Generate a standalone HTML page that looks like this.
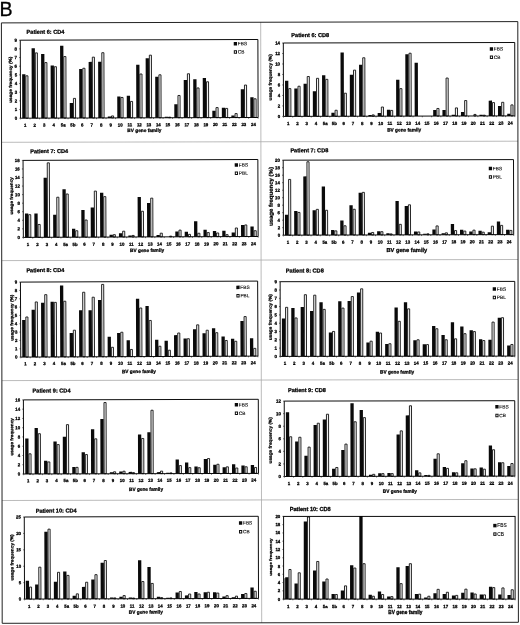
<!DOCTYPE html>
<html><head><meta charset="utf-8"><title>Figure B</title>
<style>html,body{margin:0;padding:0;background:#fff}svg{display:block;filter:blur(0.3px)}text{font-family:"Liberation Sans",sans-serif;fill:#000}.s text{stroke:#000;stroke-width:0.26px}.s text.n{stroke:#000;stroke-width:0.1px;fill:#000}</style>
</head><body>
<svg width="520" height="625" viewBox="0 0 520 625">
<rect x="0" y="0" width="520" height="625" fill="#fff"/>
<text x="-0.4" y="16.3" font-size="19.6" fill="#000" stroke="#000" stroke-width="0.3">B</text>
<g stroke="#aaa" stroke-width="0.8" fill="none">
<line x1="260.7" y1="22" x2="261.7" y2="623"/>
<line x1="2" y1="142.3" x2="518" y2="141.20000000000002"/>
<line x1="2" y1="260.6" x2="518" y2="259.5"/>
<line x1="2" y1="380.6" x2="518" y2="379.5"/>
<line x1="2" y1="500.5" x2="518" y2="499.4"/>
</g>
<path d="M1.4 22.9L517.8 21.6L518.4 622.3L2.2 623.3Z" fill="none" stroke="#222" stroke-width="1.0"/>
<g class="s" transform="rotate(-0.169 20.4 79.2)">
<text x="26.7" y="33.8" font-size="5.6" font-weight="bold">Patient 6: CD4</text>
<path d="M22.15 118.2v-43.98h3.3v43.98zM31.66 118.2v-69.81h3.3v69.81zM41.16 118.2v-64.09h3.3v64.09zM50.66 118.2v-52.65h3.3v52.65zM60.17 118.2v-72.32h3.3v72.32zM69.67 118.2v-14.95h3.3v14.95zM79.18 118.2v-49.1h3.3v49.1zM88.68 118.2v-56.12h3.3v56.12zM98.18 118.2v-56.12h3.3v56.12zM107.69 118.2v-1.52h3.3v1.52zM117.19 118.2v-21.36h3.3v21.36zM126.7 118.2v-22.23h3.3v22.23zM136.2 118.2v-53h3.3v53zM145.7 118.2v-59.58h3.3v59.58zM155.21 118.2v-40.95h3.3v40.95zM164.71 118.2v-1h3.3v1zM174.22 118.2v-13.48h3.3v13.48zM183.72 118.2v-37.83h3.3v37.83zM193.22 118.2v-38.35h3.3v38.35zM202.73 118.2v-39.65h3.3v39.65zM212.23 118.2v-6.98h3.3v6.98zM221.74 118.2v-9.75h3.3v9.75zM231.24 118.2v-2.04h3.3v2.04zM240.74 118.2v-28.38h3.3v28.38zM250.25 118.2v-20.32h3.3v20.32z" fill="#0a0a0a"/>
<path d="M25.85 118.2v-42.37h2.1v42.37zM35.36 118.2v-65.25h2.1v65.25zM44.86 118.2v-55.54h2.1v55.54zM54.36 118.2v-51.38h2.1v51.38zM63.87 118.2v-61.52h2.1v61.52zM73.37 118.2v-19.66h2.1v19.66zM82.88 118.2v-49.74h2.1v49.74zM92.38 118.2v-60.83h2.1v60.83zM101.88 118.2v-65.25h2.1v65.25zM111.39 118.2v-1.98h2.1v1.98zM120.89 118.2v-20.44h2.1v20.44zM130.4 118.2v-16.46h2.1v16.46zM139.9 118.2v-43.84h2.1v43.84zM149.4 118.2v-62.65h2.1v62.65zM158.91 118.2v-42.98h2.1v42.98zM168.41 118.2v-0.6h2.1v0.6zM177.92 118.2v-22.26h2.1v22.26zM187.42 118.2v-43.93h2.1v43.93zM196.92 118.2v-29.72h2.1v29.72zM206.43 118.2v-35.87h2.1v35.87zM215.93 118.2v-10.04h2.1v10.04zM225.44 118.2v-9.18h2.1v9.18zM234.94 118.2v-3.98h2.1v3.98zM244.44 118.2v-32.49h2.1v32.49zM253.95 118.2v-18.71h2.1v18.71z" fill="#f0f0f0" stroke="#111" stroke-width="0.9"/>
<rect x="20.4" y="40.2" width="237.6" height="78" fill="none" stroke="#000" stroke-width="0.95"/>
<path d="M20.4 118.2h-1.2M20.4 109.53h-1.2M20.4 100.87h-1.2M20.4 92.2h-1.2M20.4 83.53h-1.2M20.4 74.87h-1.2M20.4 66.2h-1.2M20.4 57.53h-1.2M20.4 48.87h-1.2M20.4 40.2h-1.2M20.4 118.2v1.2M29.9 118.2v1.2M39.41 118.2v1.2M48.91 118.2v1.2M58.42 118.2v1.2M67.92 118.2v1.2M77.42 118.2v1.2M86.93 118.2v1.2M96.43 118.2v1.2M105.94 118.2v1.2M115.44 118.2v1.2M124.94 118.2v1.2M134.45 118.2v1.2M143.95 118.2v1.2M153.46 118.2v1.2M162.96 118.2v1.2M172.46 118.2v1.2M181.97 118.2v1.2M191.47 118.2v1.2M200.98 118.2v1.2M210.48 118.2v1.2M219.98 118.2v1.2M229.49 118.2v1.2M238.99 118.2v1.2M248.5 118.2v1.2M258 118.2v1.2" stroke="#111" stroke-width="0.6" fill="none"/>
<g font-size="4.4" font-weight="bold" text-anchor="end">
<text x="17.1" y="119.7">0</text>
<text x="17.1" y="111.03">1</text>
<text x="17.1" y="102.37">2</text>
<text x="17.1" y="93.7">3</text>
<text x="17.1" y="85.03">4</text>
<text x="17.1" y="76.37">5</text>
<text x="17.1" y="67.7">6</text>
<text x="17.1" y="59.03">7</text>
<text x="17.1" y="50.37">8</text>
<text x="17.1" y="41.7">9</text>
</g>
<g font-size="4.4" font-weight="bold" text-anchor="middle">
<text x="25.15" y="126.7">1</text>
<text x="34.66" y="126.7">2</text>
<text x="44.16" y="126.7">3</text>
<text x="53.66" y="126.7">4</text>
<text x="63.17" y="126.7">5a</text>
<text x="72.67" y="126.7">5b</text>
<text x="82.18" y="126.7">6</text>
<text x="91.68" y="126.7">7</text>
<text x="101.18" y="126.7">8</text>
<text x="110.69" y="126.7">9</text>
<text x="120.19" y="126.7">10</text>
<text x="129.7" y="126.7">11</text>
<text x="139.2" y="126.7">12</text>
<text x="148.7" y="126.7">13</text>
<text x="158.21" y="126.7">14</text>
<text x="167.71" y="126.7">15</text>
<text x="177.22" y="126.7">16</text>
<text x="186.72" y="126.7">17</text>
<text x="196.22" y="126.7">18</text>
<text x="205.73" y="126.7">19</text>
<text x="215.23" y="126.7">20</text>
<text x="224.74" y="126.7">21</text>
<text x="234.24" y="126.7">22</text>
<text x="243.74" y="126.7">23</text>
<text x="253.25" y="126.7">24</text>
</g>
<text x="144.2" y="132.27" font-size="4.75" font-weight="bold" text-anchor="middle">BV gene family</text>
<text transform="translate(11.92 79.7) rotate(-90) scale(1.1 1)" font-size="4.3" font-weight="bold" text-anchor="middle">usage frequency (%)</text>
<rect x="233.85" y="42.58" width="3.3" height="3.5" fill="#0a0a0a"/>
<rect x="234.4" y="51.38" width="2.2" height="2.5" fill="#fff" stroke="#111" stroke-width="1"/>
<text x="237.9" y="45.98" font-size="4.8" class="n">FBS</text>
<text x="237.9" y="54.28" font-size="4.8" class="n">CB</text>
</g>
<g class="s" transform="rotate(-0.124 283.4 79.7)">
<text x="291.4" y="37" font-size="5.6" font-weight="bold">Patient 6: CD8</text>
<path d="M285.03 116.4v-35.62h3.3v35.62zM294.28 116.4v-27.91h3.3v27.91zM303.54 116.4v-32.63h3.3v32.63zM312.8 116.4v-25.03h3.3v25.03zM322.05 116.4v-41.02h3.3v41.02zM331.31 116.4v-3.53h3.3v3.53zM340.56 116.4v-63.83h3.3v63.83zM349.82 116.4v-41.54h3.3v41.54zM359.08 116.4v-51.51h3.3v51.51zM368.33 116.4v-1.17h3.3v1.17zM377.59 116.4v-3.27h3.3v3.27zM386.84 116.4v-6.42h3.3v6.42zM396.1 116.4v-36.3h3.3v36.3zM405.36 116.4v-61.99h3.3v61.99zM414.61 116.4v-53.34h3.3v53.34zM433.12 116.4v-6.16h3.3v6.16zM442.38 116.4v-6.16h3.3v6.16zM451.64 116.4v-1.17h3.3v1.17zM460.89 116.4v-4.06h3.3v4.06zM479.4 116.4v-1.17h3.3v1.17zM488.66 116.4v-15.33h3.3v15.33zM497.92 116.4v-9.83h3.3v9.83zM507.17 116.4v-2.22h3.3v2.22z" fill="#0a0a0a"/>
<path d="M288.73 116.4v-27.77h2.1v27.77zM297.98 116.4v-30.13h2.1v30.13zM307.24 116.4v-39.83h2.1v39.83zM316.5 116.4v-38h2.1v38zM325.75 116.4v-36.95h2.1v36.95zM335.01 116.4v-6.02h2.1v6.02zM344.26 116.4v-23.06h2.1v23.06zM353.52 116.4v-46.12h2.1v46.12zM362.78 116.4v-58.45h2.1v58.45zM372.03 116.4v-1.3h2.1v1.3zM381.29 116.4v-9.16h2.1v9.16zM390.54 116.4v-5.75h2.1v5.75zM399.8 116.4v-27.51h2.1v27.51zM409.06 116.4v-62.9h2.1v62.9zM436.82 116.4v-7.59h2.1v7.59zM446.08 116.4v-38h2.1v38zM455.34 116.4v-8.11h2.1v8.11zM464.59 116.4v-15.45h2.1v15.45zM473.85 116.4v-1.56h2.1v1.56zM483.1 116.4v-0.77h2.1v0.77zM492.36 116.4v-13.36h2.1v13.36zM501.62 116.4v-13.62h2.1v13.62zM510.87 116.4v-11h2.1v11z" fill="#f0f0f0" stroke="#111" stroke-width="0.9"/>
<rect x="283.4" y="43" width="231.4" height="73.4" fill="none" stroke="#000" stroke-width="0.95"/>
<path d="M283.4 116.4h-1.2M283.4 105.91h-1.2M283.4 95.43h-1.2M283.4 84.94h-1.2M283.4 74.46h-1.2M283.4 63.97h-1.2M283.4 53.49h-1.2M283.4 43h-1.2M283.4 116.4v1.2M292.66 116.4v1.2M301.91 116.4v1.2M311.17 116.4v1.2M320.42 116.4v1.2M329.68 116.4v1.2M338.94 116.4v1.2M348.19 116.4v1.2M357.45 116.4v1.2M366.7 116.4v1.2M375.96 116.4v1.2M385.22 116.4v1.2M394.47 116.4v1.2M403.73 116.4v1.2M412.98 116.4v1.2M422.24 116.4v1.2M431.5 116.4v1.2M440.75 116.4v1.2M450.01 116.4v1.2M459.26 116.4v1.2M468.52 116.4v1.2M477.78 116.4v1.2M487.03 116.4v1.2M496.29 116.4v1.2M505.54 116.4v1.2M514.8 116.4v1.2" stroke="#111" stroke-width="0.6" fill="none"/>
<g font-size="4.4" font-weight="bold" text-anchor="end">
<text x="280.1" y="117.9">0</text>
<text x="280.1" y="107.41">2</text>
<text x="280.1" y="96.93">4</text>
<text x="280.1" y="86.44">6</text>
<text x="280.1" y="75.96">8</text>
<text x="280.1" y="65.47">10</text>
<text x="280.1" y="54.99">12</text>
<text x="280.1" y="44.5">14</text>
</g>
<g font-size="4.4" font-weight="bold" text-anchor="middle">
<text x="288.03" y="125.1">1</text>
<text x="297.28" y="125.1">2</text>
<text x="306.54" y="125.1">3</text>
<text x="315.8" y="125.1">4</text>
<text x="325.05" y="125.1">5a</text>
<text x="334.31" y="125.1">5b</text>
<text x="343.56" y="125.1">6</text>
<text x="352.82" y="125.1">7</text>
<text x="362.08" y="125.1">8</text>
<text x="371.33" y="125.1">9</text>
<text x="380.59" y="125.1">10</text>
<text x="389.84" y="125.1">11</text>
<text x="399.1" y="125.1">12</text>
<text x="408.36" y="125.1">13</text>
<text x="417.61" y="125.1">14</text>
<text x="426.87" y="125.1">15</text>
<text x="436.12" y="125.1">16</text>
<text x="445.38" y="125.1">17</text>
<text x="454.64" y="125.1">18</text>
<text x="463.89" y="125.1">19</text>
<text x="473.15" y="125.1">20</text>
<text x="482.4" y="125.1">21</text>
<text x="491.66" y="125.1">22</text>
<text x="500.92" y="125.1">23</text>
<text x="510.17" y="125.1">24</text>
</g>
<text x="404.1" y="131.67" font-size="4.75" font-weight="bold" text-anchor="middle">BV gene family</text>
<text transform="translate(271.72 77.3) rotate(-90) scale(1.1 1)" font-size="4.3" font-weight="bold" text-anchor="middle">usage frequency (%)</text>
<rect x="489.85" y="47.6" width="3.3" height="3.5" fill="#0a0a0a"/>
<rect x="490.4" y="56.5" width="2.2" height="2.5" fill="#fff" stroke="#111" stroke-width="1"/>
<text x="493.9" y="51" font-size="4.8" class="n">FBS</text>
<text x="493.9" y="59.4" font-size="4.8" class="n">CB</text>
</g>
<g class="s" transform="rotate(-0.220 23.2 198.9)">
<text x="30.4" y="153.2" font-size="5.6" font-weight="bold">Patient 7: CD4</text>
<path d="M24.9 237.4v-23.96h3.3v23.96zM34.29 237.4v-23.96h3.3v23.96zM43.68 237.4v-59.68h3.3v59.68zM53.07 237.4v-22.47h3.3v22.47zM62.46 237.4v-47.92h3.3v47.92zM71.86 237.4v-8.56h3.3v8.56zM81.25 237.4v-27.17h3.3v27.17zM90.64 237.4v-29.74h3.3v29.74zM100.03 237.4v-44.28h3.3v44.28zM109.42 237.4v-2.36h3.3v2.36zM118.82 237.4v-3.86h3.3v3.86zM128.21 237.4v-1.51h3.3v1.51zM137.6 237.4v-40.01h3.3v40.01zM146.99 237.4v-34.02h3.3v34.02zM156.38 237.4v-1.93h3.3v1.93zM175.17 237.4v-5.36h3.3v5.36zM184.56 237.4v-4.93h3.3v4.93zM193.95 237.4v-15.41h3.3v15.41zM203.34 237.4v-7.07h3.3v7.07zM212.74 237.4v-5.78h3.3v5.78zM222.13 237.4v-5.78h3.3v5.78zM231.52 237.4v-4.07h3.3v4.07zM240.91 237.4v-11.56h3.3v11.56zM250.3 237.4v-10.06h3.3v10.06z" fill="#0a0a0a"/>
<path d="M28.6 237.4v-22.71h2.1v22.71zM37.99 237.4v-12.87h2.1v12.87zM47.38 237.4v-74.47h2.1v74.47zM56.77 237.4v-40.03h2.1v40.03zM66.16 237.4v-43.24h2.1v43.24zM75.56 237.4v-6.45h2.1v6.45zM84.95 237.4v-17.15h2.1v17.15zM94.34 237.4v-46.02h2.1v46.02zM103.73 237.4v-40.46h2.1v40.46zM113.12 237.4v-2.39h2.1v2.39zM122.52 237.4v-5.81h2.1v5.81zM131.91 237.4v-1.53h2.1v1.53zM141.3 237.4v-25.7h2.1v25.7zM150.69 237.4v-38.75h2.1v38.75zM160.08 237.4v-3.67h2.1v3.67zM169.48 237.4v-0.68h2.1v0.68zM178.87 237.4v-6.67h2.1v6.67zM188.26 237.4v-2.39h2.1v2.39zM197.65 237.4v-3.46h2.1v3.46zM207.04 237.4v-4.1h2.1v4.1zM216.44 237.4v-3.67h2.1v3.67zM225.83 237.4v-1.96h2.1v1.96zM235.22 237.4v-8.59h2.1v8.59zM244.61 237.4v-11.59h2.1v11.59zM254 237.4v-5.81h2.1v5.81z" fill="#f0f0f0" stroke="#111" stroke-width="0.9"/>
<rect x="23.2" y="160.4" width="234.8" height="77" fill="none" stroke="#000" stroke-width="0.95"/>
<path d="M23.2 237.4h-1.2M23.2 228.84h-1.2M23.2 220.29h-1.2M23.2 211.73h-1.2M23.2 203.18h-1.2M23.2 194.62h-1.2M23.2 186.07h-1.2M23.2 177.51h-1.2M23.2 168.96h-1.2M23.2 160.4h-1.2M23.2 237.4v1.2M32.59 237.4v1.2M41.98 237.4v1.2M51.38 237.4v1.2M60.77 237.4v1.2M70.16 237.4v1.2M79.55 237.4v1.2M88.94 237.4v1.2M98.34 237.4v1.2M107.73 237.4v1.2M117.12 237.4v1.2M126.51 237.4v1.2M135.9 237.4v1.2M145.3 237.4v1.2M154.69 237.4v1.2M164.08 237.4v1.2M173.47 237.4v1.2M182.86 237.4v1.2M192.26 237.4v1.2M201.65 237.4v1.2M211.04 237.4v1.2M220.43 237.4v1.2M229.82 237.4v1.2M239.22 237.4v1.2M248.61 237.4v1.2M258 237.4v1.2" stroke="#111" stroke-width="0.6" fill="none"/>
<g font-size="4.4" font-weight="bold" text-anchor="end">
<text x="19.9" y="238.9">0</text>
<text x="19.9" y="230.34">2</text>
<text x="19.9" y="221.79">4</text>
<text x="19.9" y="213.23">6</text>
<text x="19.9" y="204.68">8</text>
<text x="19.9" y="196.12">10</text>
<text x="19.9" y="187.57">12</text>
<text x="19.9" y="179.01">14</text>
<text x="19.9" y="170.46">16</text>
<text x="19.9" y="161.9">18</text>
</g>
<g font-size="4.4" font-weight="bold" text-anchor="middle">
<text x="27.9" y="246.1">1</text>
<text x="37.29" y="246.1">2</text>
<text x="46.68" y="246.1">3</text>
<text x="56.07" y="246.1">4</text>
<text x="65.46" y="246.1">5a</text>
<text x="74.86" y="246.1">5b</text>
<text x="84.25" y="246.1">6</text>
<text x="93.64" y="246.1">7</text>
<text x="103.03" y="246.1">8</text>
<text x="112.42" y="246.1">9</text>
<text x="121.82" y="246.1">10</text>
<text x="131.21" y="246.1">11</text>
<text x="140.6" y="246.1">12</text>
<text x="149.99" y="246.1">13</text>
<text x="159.38" y="246.1">14</text>
<text x="168.78" y="246.1">15</text>
<text x="178.17" y="246.1">16</text>
<text x="187.56" y="246.1">17</text>
<text x="196.95" y="246.1">18</text>
<text x="206.34" y="246.1">19</text>
<text x="215.74" y="246.1">20</text>
<text x="225.13" y="246.1">21</text>
<text x="234.52" y="246.1">22</text>
<text x="243.91" y="246.1">23</text>
<text x="253.3" y="246.1">24</text>
</g>
<text x="146.9" y="252.37" font-size="4.75" font-weight="bold" text-anchor="middle">BV gene family</text>
<text transform="translate(12.92 195.8) rotate(-90) scale(1.1 1)" font-size="4.3" font-weight="bold" text-anchor="middle">usage frequency</text>
<rect x="234.85" y="164.06" width="3.3" height="3.5" fill="#0a0a0a"/>
<rect x="235.4" y="172.76" width="2.2" height="2.5" fill="#fff" stroke="#111" stroke-width="1"/>
<text x="238.9" y="167.46" font-size="4.8" class="n">FBS</text>
<text x="238.9" y="175.66" font-size="4.8" class="n">PBL</text>
</g>
<g class="s" transform="rotate(-0.149 283.3 197.7)">
<text x="290.5" y="152.4" font-size="5.6" font-weight="bold">Patient 7: CD8</text>
<path d="M284.91 235.2v-20.52h3.3v20.52zM294.12 235.2v-24.09h3.3v24.09zM303.33 235.2v-58.77h3.3v58.77zM312.54 235.2v-24.84h3.3v24.84zM321.75 235.2v-48.65h3.3v48.65zM330.97 235.2v-4.96h3.3v4.96zM340.18 235.2v-14.53h3.3v14.53zM349.39 235.2v-29.71h3.3v29.71zM358.6 235.2v-42.27h3.3v42.27zM367.81 235.2v-2.34h3.3v2.34zM377.03 235.2v-3.65h3.3v3.65zM386.24 235.2v-1.59h3.3v1.59zM395.45 235.2v-34.02h3.3v34.02zM404.66 235.2v-28.77h3.3v28.77zM413.87 235.2v-3.27h3.3v3.27zM423.09 235.2v-1.02h3.3v1.02zM432.3 235.2v-5.34h3.3v5.34zM441.51 235.2v-1.59h3.3v1.59zM450.72 235.2v-10.78h3.3v10.78zM459.93 235.2v-4.96h3.3v4.96zM469.15 235.2v-3.27h3.3v3.27zM478.36 235.2v-3.84h3.3v3.84zM487.57 235.2v-2.34h3.3v2.34zM496.78 235.2v-13.21h3.3v13.21zM505.99 235.2v-4.96h3.3v4.96z" fill="#0a0a0a"/>
<path d="M288.61 235.2v-55.75h2.1v55.75zM297.82 235.2v-22.75h2.1v22.75zM307.03 235.2v-73.38h2.1v73.38zM316.24 235.2v-25.75h2.1v25.75zM325.45 235.2v-24.81h2.1v24.81zM334.67 235.2v-4.19h2.1v4.19zM343.88 235.2v-9.25h2.1v9.25zM353.09 235.2v-25.75h2.1v25.75zM362.3 235.2v-42.62h2.1v42.62zM371.51 235.2v-2.5h2.1v2.5zM380.73 235.2v-3.25h2.1v3.25zM389.94 235.2v-1h2.1v1zM399.15 235.2v-10.56h2.1v10.56zM408.36 235.2v-30.06h2.1v30.06zM417.57 235.2v-2.88h2.1v2.88zM426.79 235.2v-1h2.1v1zM436 235.2v-8.88h2.1v8.88zM445.21 235.2v-1.94h2.1v1.94zM454.42 235.2v-4.19h2.1v4.19zM463.63 235.2v-3.63h2.1v3.63zM472.85 235.2v-4.56h2.1v4.56zM482.06 235.2v-2.5h2.1v2.5zM491.27 235.2v-8.5h2.1v8.5zM500.48 235.2v-9.25h2.1v9.25zM509.69 235.2v-4.19h2.1v4.19z" fill="#f0f0f0" stroke="#111" stroke-width="0.9"/>
<rect x="283.3" y="160.2" width="230.3" height="75" fill="none" stroke="#000" stroke-width="0.95"/>
<path d="M283.3 235.2h-1.2M283.3 227.7h-1.2M283.3 220.2h-1.2M283.3 212.7h-1.2M283.3 205.2h-1.2M283.3 197.7h-1.2M283.3 190.2h-1.2M283.3 182.7h-1.2M283.3 175.2h-1.2M283.3 167.7h-1.2M283.3 160.2h-1.2M283.3 235.2v1.2M292.51 235.2v1.2M301.72 235.2v1.2M310.94 235.2v1.2M320.15 235.2v1.2M329.36 235.2v1.2M338.57 235.2v1.2M347.78 235.2v1.2M357 235.2v1.2M366.21 235.2v1.2M375.42 235.2v1.2M384.63 235.2v1.2M393.84 235.2v1.2M403.06 235.2v1.2M412.27 235.2v1.2M421.48 235.2v1.2M430.69 235.2v1.2M439.9 235.2v1.2M449.12 235.2v1.2M458.33 235.2v1.2M467.54 235.2v1.2M476.75 235.2v1.2M485.96 235.2v1.2M495.18 235.2v1.2M504.39 235.2v1.2M513.6 235.2v1.2" stroke="#111" stroke-width="0.6" fill="none"/>
<g font-size="4.4" font-weight="bold" text-anchor="end">
<text x="280" y="236.7">0</text>
<text x="280" y="229.2">2</text>
<text x="280" y="221.7">4</text>
<text x="280" y="214.2">6</text>
<text x="280" y="206.7">8</text>
<text x="280" y="199.2">10</text>
<text x="280" y="191.7">12</text>
<text x="280" y="184.2">14</text>
<text x="280" y="176.7">16</text>
<text x="280" y="169.2">18</text>
<text x="280" y="161.7">20</text>
</g>
<g font-size="4.4" font-weight="bold" text-anchor="middle">
<text x="287.91" y="243.8">1</text>
<text x="297.12" y="243.8">2</text>
<text x="306.33" y="243.8">3</text>
<text x="315.54" y="243.8">4</text>
<text x="324.75" y="243.8">5a</text>
<text x="333.97" y="243.8">5b</text>
<text x="343.18" y="243.8">6</text>
<text x="352.39" y="243.8">7</text>
<text x="361.6" y="243.8">8</text>
<text x="370.81" y="243.8">9</text>
<text x="380.03" y="243.8">10</text>
<text x="389.24" y="243.8">11</text>
<text x="398.45" y="243.8">12</text>
<text x="407.66" y="243.8">13</text>
<text x="416.87" y="243.8">14</text>
<text x="426.09" y="243.8">15</text>
<text x="435.3" y="243.8">16</text>
<text x="444.51" y="243.8">17</text>
<text x="453.72" y="243.8">18</text>
<text x="462.93" y="243.8">19</text>
<text x="472.15" y="243.8">20</text>
<text x="481.36" y="243.8">21</text>
<text x="490.57" y="243.8">22</text>
<text x="499.78" y="243.8">23</text>
<text x="508.99" y="243.8">24</text>
</g>
<text x="406.7" y="252.38" font-size="5.7" font-weight="bold" text-anchor="middle">BV gene family</text>
<text transform="translate(272.73 196.5) rotate(-90) scale(1.1 1)" font-size="5.5" font-weight="bold" text-anchor="middle">usage frequency (%)</text>
<rect x="488.85" y="167.29" width="3.3" height="3.5" fill="#0a0a0a"/>
<rect x="489.4" y="176.19" width="2.2" height="2.5" fill="#fff" stroke="#111" stroke-width="1"/>
<text x="492.9" y="170.69" font-size="4.8" class="n">FBS</text>
<text x="492.9" y="179.09" font-size="4.8" class="n">PBL</text>
</g>
<g class="s" transform="rotate(-0.242 20.6 319.6)">
<text x="26.6" y="272.2" font-size="5.6" font-weight="bold">Patient 8: CD4</text>
<path d="M22.14 357.1v-37.07h3.3v37.07zM31.63 357.1v-47.32h3.3v47.32zM41.12 357.1v-54.32h3.3v54.32zM50.61 357.1v-55.15h3.3v55.15zM60.1 357.1v-71.4h3.3v71.4zM69.58 357.1v-23.98h3.3v23.98zM79.07 357.1v-46.48h3.3v46.48zM88.56 357.1v-46.48h3.3v46.48zM98.05 357.1v-56.73h3.3v56.73zM107.54 357.1v-19.98h3.3v19.98zM117.02 357.1v-23.57h3.3v23.57zM126.51 357.1v-16.48h3.3v16.48zM136 357.1v-57.9h3.3v57.9zM145.49 357.1v-50.65h3.3v50.65zM154.98 357.1v-16.73h3.3v16.73zM164.46 357.1v-15.65h3.3v15.65zM173.95 357.1v-21.32h3.3v21.32zM183.44 357.1v-17.9h3.3v17.9zM192.93 357.1v-27.07h3.3v27.07zM202.42 357.1v-23.15h3.3v23.15zM211.9 357.1v-28.15h3.3v28.15zM221.39 357.1v-19.65h3.3v19.65zM230.88 357.1v-17.57h3.3v17.57zM240.37 357.1v-35.15h3.3v35.15zM249.86 357.1v-17.9h3.3v17.9z" fill="#0a0a0a"/>
<path d="M25.84 357.1v-40.08h2.1v40.08zM35.33 357.1v-55.08h2.1v55.08zM44.82 357.1v-62.33h2.1v62.33zM54.31 357.1v-54.58h2.1v54.58zM63.8 357.1v-55.67h2.1v55.67zM73.28 357.1v-26.67h2.1v26.67zM82.77 357.1v-64.58h2.1v64.58zM92.26 357.1v-59.58h2.1v59.58zM101.75 357.1v-72.33h2.1v72.33zM111.24 357.1v-9.42h2.1v9.42zM120.72 357.1v-24.42h2.1v24.42zM130.21 357.1v-7.17h2.1v7.17zM139.7 357.1v-48.58h2.1v48.58zM149.19 357.1v-36.08h2.1v36.08zM158.68 357.1v-10.25h2.1v10.25zM168.16 357.1v-6.25h2.1v6.25zM177.65 357.1v-23.42h2.1v23.42zM187.14 357.1v-17.67h2.1v17.67zM196.63 357.1v-31.5h2.1v31.5zM206.12 357.1v-26.08h2.1v26.08zM215.6 357.1v-23.58h2.1v23.58zM225.09 357.1v-15.75h2.1v15.75zM234.58 357.1v-14.92h2.1v14.92zM244.07 357.1v-39.58h2.1v39.58zM253.56 357.1v-7.75h2.1v7.75z" fill="#f0f0f0" stroke="#111" stroke-width="0.9"/>
<rect x="20.6" y="282.1" width="237.2" height="75" fill="none" stroke="#000" stroke-width="0.95"/>
<path d="M20.6 357.1h-1.2M20.6 348.77h-1.2M20.6 340.43h-1.2M20.6 332.1h-1.2M20.6 323.77h-1.2M20.6 315.43h-1.2M20.6 307.1h-1.2M20.6 298.77h-1.2M20.6 290.43h-1.2M20.6 282.1h-1.2M20.6 357.1v1.2M30.09 357.1v1.2M39.58 357.1v1.2M49.06 357.1v1.2M58.55 357.1v1.2M68.04 357.1v1.2M77.53 357.1v1.2M87.02 357.1v1.2M96.5 357.1v1.2M105.99 357.1v1.2M115.48 357.1v1.2M124.97 357.1v1.2M134.46 357.1v1.2M143.94 357.1v1.2M153.43 357.1v1.2M162.92 357.1v1.2M172.41 357.1v1.2M181.9 357.1v1.2M191.38 357.1v1.2M200.87 357.1v1.2M210.36 357.1v1.2M219.85 357.1v1.2M229.34 357.1v1.2M238.82 357.1v1.2M248.31 357.1v1.2M257.8 357.1v1.2" stroke="#111" stroke-width="0.6" fill="none"/>
<g font-size="4.4" font-weight="bold" text-anchor="end">
<text x="17.3" y="358.6">0</text>
<text x="17.3" y="350.27">1</text>
<text x="17.3" y="341.93">2</text>
<text x="17.3" y="333.6">3</text>
<text x="17.3" y="325.27">4</text>
<text x="17.3" y="316.93">5</text>
<text x="17.3" y="308.6">6</text>
<text x="17.3" y="300.27">7</text>
<text x="17.3" y="291.93">8</text>
<text x="17.3" y="283.6">9</text>
</g>
<g font-size="4.4" font-weight="bold" text-anchor="middle">
<text x="25.34" y="365.2">1</text>
<text x="34.83" y="365.2">2</text>
<text x="44.32" y="365.2">3</text>
<text x="53.81" y="365.2">4</text>
<text x="63.3" y="365.2">5a</text>
<text x="72.78" y="365.2">5b</text>
<text x="82.27" y="365.2">6</text>
<text x="91.76" y="365.2">7</text>
<text x="101.25" y="365.2">8</text>
<text x="110.74" y="365.2">9</text>
<text x="120.22" y="365.2">10</text>
<text x="129.71" y="365.2">11</text>
<text x="139.2" y="365.2">12</text>
<text x="148.69" y="365.2">13</text>
<text x="158.18" y="365.2">14</text>
<text x="167.66" y="365.2">15</text>
<text x="177.15" y="365.2">16</text>
<text x="186.64" y="365.2">17</text>
<text x="196.13" y="365.2">18</text>
<text x="205.62" y="365.2">19</text>
<text x="215.1" y="365.2">20</text>
<text x="224.59" y="365.2">21</text>
<text x="234.08" y="365.2">22</text>
<text x="243.57" y="365.2">23</text>
<text x="253.06" y="365.2">24</text>
</g>
<text x="138.7" y="373.57" font-size="4.75" font-weight="bold" text-anchor="middle">BV gene family</text>
<text transform="translate(13.32 317.7) rotate(-90) scale(1.1 1)" font-size="4.3" font-weight="bold" text-anchor="middle">usage frequency (%)</text>
<rect x="236.45" y="286.55" width="3.3" height="3.5" fill="#0a0a0a"/>
<rect x="237" y="295.35" width="2.2" height="2.5" fill="#fff" stroke="#111" stroke-width="1"/>
<text x="240.5" y="289.95" font-size="4.8" class="n">FBS</text>
<text x="240.5" y="298.25" font-size="4.8" class="n">PBL</text>
</g>
<g class="s" transform="rotate(-0.073 280.2 319.05)">
<text x="285.9" y="272.5" font-size="5.6" font-weight="bold">Patient 8: CD8</text>
<path d="M281.89 356.4v-37.92h3.3v37.92zM291.28 356.4v-48.29h3.3v48.29zM300.66 356.4v-49.45h3.3v49.45zM310.04 356.4v-45.47h3.3v45.47zM319.43 356.4v-54.1h3.3v54.1zM328.81 356.4v-23.89h3.3v23.89zM338.2 356.4v-55.18h3.3v55.18zM347.58 356.4v-55.43h3.3v55.43zM356.96 356.4v-63.73h3.3v63.73zM366.35 356.4v-13.76h3.3v13.76zM375.73 356.4v-24.47h3.3v24.47zM385.12 356.4v-12.35h3.3v12.35zM394.5 356.4v-48.79h3.3v48.79zM403.88 356.4v-53.94h3.3v53.94zM413.27 356.4v-16h3.3v16zM422.65 356.4v-12.02h3.3v12.02zM432.04 356.4v-30.2h3.3v30.2zM441.42 356.4v-21.15h3.3v21.15zM450.8 356.4v-33.85h3.3v33.85zM460.19 356.4v-29.7h3.3v29.7zM469.57 356.4v-25.88h3.3v25.88zM478.96 356.4v-16.83h3.3v16.83zM488.34 356.4v-16.34h3.3v16.34zM497.72 356.4v-38.41h3.3v38.41zM507.11 356.4v-10.61h3.3v10.61z" fill="#0a0a0a"/>
<path d="M285.59 356.4v-49.05h2.1v49.05zM294.98 356.4v-38.43h2.1v38.43zM304.36 356.4v-61.67h2.1v61.67zM313.74 356.4v-61.17h2.1v61.17zM323.13 356.4v-46.98h2.1v46.98zM332.51 356.4v-24.9h2.1v24.9zM341.9 356.4v-48.22h2.1v48.22zM351.28 356.4v-59.76h2.1v59.76zM360.66 356.4v-67.48h2.1v67.48zM370.05 356.4v-15.11h2.1v15.11zM379.43 356.4v-23.24h2.1v23.24zM388.82 356.4v-12.53h2.1v12.53zM398.2 356.4v-34.94h2.1v34.94zM407.58 356.4v-47.39h2.1v47.39zM416.97 356.4v-16.43h2.1v16.43zM426.35 356.4v-11.62h2.1v11.62zM435.74 356.4v-27.47h2.1v27.47zM445.12 356.4v-16.43h2.1v16.43zM454.5 356.4v-17.35h2.1v17.35zM463.89 356.4v-22.49h2.1v22.49zM473.27 356.4v-24.57h2.1v24.57zM482.66 356.4v-15.6h2.1v15.6zM492.04 356.4v-34.03h2.1v34.03zM501.42 356.4v-38.43h2.1v38.43zM510.81 356.4v-11.62h2.1v11.62z" fill="#f0f0f0" stroke="#111" stroke-width="0.9"/>
<rect x="280.2" y="281.7" width="234.6" height="74.7" fill="none" stroke="#000" stroke-width="0.95"/>
<path d="M280.2 356.4h-1.2M280.2 348.1h-1.2M280.2 339.8h-1.2M280.2 331.5h-1.2M280.2 323.2h-1.2M280.2 314.9h-1.2M280.2 306.6h-1.2M280.2 298.3h-1.2M280.2 290h-1.2M280.2 281.7h-1.2M280.2 356.4v1.2M289.58 356.4v1.2M298.97 356.4v1.2M308.35 356.4v1.2M317.74 356.4v1.2M327.12 356.4v1.2M336.5 356.4v1.2M345.89 356.4v1.2M355.27 356.4v1.2M364.66 356.4v1.2M374.04 356.4v1.2M383.42 356.4v1.2M392.81 356.4v1.2M402.19 356.4v1.2M411.58 356.4v1.2M420.96 356.4v1.2M430.34 356.4v1.2M439.73 356.4v1.2M449.11 356.4v1.2M458.5 356.4v1.2M467.88 356.4v1.2M477.26 356.4v1.2M486.65 356.4v1.2M496.03 356.4v1.2M505.42 356.4v1.2M514.8 356.4v1.2" stroke="#111" stroke-width="0.6" fill="none"/>
<g font-size="4.4" font-weight="bold" text-anchor="end">
<text x="276.9" y="357.9">0</text>
<text x="276.9" y="349.6">1</text>
<text x="276.9" y="341.3">2</text>
<text x="276.9" y="333">3</text>
<text x="276.9" y="324.7">4</text>
<text x="276.9" y="316.4">5</text>
<text x="276.9" y="308.1">6</text>
<text x="276.9" y="299.8">7</text>
<text x="276.9" y="291.5">8</text>
<text x="276.9" y="283.2">9</text>
</g>
<g font-size="4.4" font-weight="bold" text-anchor="middle">
<text x="284.89" y="364.8">1</text>
<text x="294.28" y="364.8">2</text>
<text x="303.66" y="364.8">3</text>
<text x="313.04" y="364.8">4</text>
<text x="322.43" y="364.8">5a</text>
<text x="331.81" y="364.8">5b</text>
<text x="341.2" y="364.8">6</text>
<text x="350.58" y="364.8">7</text>
<text x="359.96" y="364.8">8</text>
<text x="369.35" y="364.8">9</text>
<text x="378.73" y="364.8">10</text>
<text x="388.12" y="364.8">11</text>
<text x="397.5" y="364.8">12</text>
<text x="406.88" y="364.8">13</text>
<text x="416.27" y="364.8">14</text>
<text x="425.65" y="364.8">15</text>
<text x="435.04" y="364.8">16</text>
<text x="444.42" y="364.8">17</text>
<text x="453.8" y="364.8">18</text>
<text x="463.19" y="364.8">19</text>
<text x="472.57" y="364.8">20</text>
<text x="481.96" y="364.8">21</text>
<text x="491.34" y="364.8">22</text>
<text x="500.72" y="364.8">23</text>
<text x="510.11" y="364.8">24</text>
</g>
<text x="397" y="373.57" font-size="4.75" font-weight="bold" text-anchor="middle">BV gene family</text>
<text transform="translate(271.72 317.2) rotate(-90) scale(1.1 1)" font-size="4.3" font-weight="bold" text-anchor="middle">usage frequency (%)</text>
<rect x="492.75" y="287.62" width="3.3" height="3.5" fill="#0a0a0a"/>
<rect x="493.3" y="296.42" width="2.2" height="2.5" fill="#fff" stroke="#111" stroke-width="1"/>
<text x="496.8" y="291.02" font-size="4.8" class="n">FBS</text>
<text x="496.8" y="299.32" font-size="4.8" class="n">PBL</text>
</g>
<g class="s" transform="rotate(-0.146 23.5 436.95)">
<text x="32.7" y="392.5" font-size="5.6" font-weight="bold">Patient 9: CD4</text>
<path d="M25.2 474v-35.38h3.3v35.38zM34.59 474v-45.85h3.3v45.85zM43.99 474v-13.29h3.3v13.29zM53.39 474v-32.33h3.3v32.33zM62.78 474v-37.19h3.3v37.19zM72.18 474v-6.9h3.3v6.9zM81.57 474v-21.58h3.3v21.58zM90.97 474v-44.65h3.3v44.65zM100.37 474v-54.84h3.3v54.84zM109.76 474v-1.58h3.3v1.58zM119.16 474v-2.36h3.3v2.36zM128.55 474v-1.85h3.3v1.85zM137.95 474v-39.27h3.3v39.27zM147.35 474v-41.36h3.3v41.36zM156.74 474v-1.53h3.3v1.53zM166.14 474v-0.88h3.3v0.88zM175.53 474v-13.99h3.3v13.99zM184.93 474v-11.02h3.3v11.02zM194.33 474v-7.04h3.3v7.04zM203.72 474v-14.5h3.3v14.5zM213.12 474v-8.8h3.3v8.8zM222.51 474v-6.35h3.3v6.35zM231.91 474v-9.31h3.3v9.31zM241.31 474v-8.06h3.3v8.06zM250.7 474v-8.43h3.3v8.43z" fill="#0a0a0a"/>
<path d="M28.9 474v-20.16h2.1v20.16zM38.29 474v-40.26h2.1v40.26zM47.69 474v-12.01h2.1v12.01zM57.09 474v-29.33h2.1v29.33zM66.48 474v-49.25h2.1v49.25zM75.88 474v-6.5h2.1v6.5zM85.27 474v-19.28h2.1v19.28zM94.67 474v-34.98h2.1v34.98zM104.07 474v-71.25h2.1v71.25zM113.46 474v-1.96h2.1v1.96zM122.86 474v-2.52h2.1v2.52zM132.25 474v-1.13h2.1v1.13zM141.65 474v-35.22h2.1v35.22zM151.05 474v-63.42h2.1v63.42zM160.44 474v-2.52h2.1v2.52zM169.84 474v-0.71h2.1v0.71zM179.23 474v-8.03h2.1v8.03zM188.63 474v-5.95h2.1v5.95zM198.03 474v-5.81h2.1v5.81zM207.42 474v-14.98h2.1v14.98zM216.82 474v-9.23h2.1v9.23zM226.21 474v-6.64h2.1v6.64zM235.61 474v-5.44h2.1v5.44zM245.01 474v-6.64h2.1v6.64zM254.4 474v-5.95h2.1v5.95z" fill="#f0f0f0" stroke="#111" stroke-width="0.9"/>
<rect x="23.5" y="399.9" width="234.9" height="74.1" fill="none" stroke="#000" stroke-width="0.95"/>
<path d="M23.5 474h-1.2M23.5 464.74h-1.2M23.5 455.48h-1.2M23.5 446.21h-1.2M23.5 436.95h-1.2M23.5 427.69h-1.2M23.5 418.42h-1.2M23.5 409.16h-1.2M23.5 399.9h-1.2M23.5 474v1.2M32.9 474v1.2M42.29 474v1.2M51.69 474v1.2M61.08 474v1.2M70.48 474v1.2M79.88 474v1.2M89.27 474v1.2M98.67 474v1.2M108.06 474v1.2M117.46 474v1.2M126.86 474v1.2M136.25 474v1.2M145.65 474v1.2M155.04 474v1.2M164.44 474v1.2M173.84 474v1.2M183.23 474v1.2M192.63 474v1.2M202.02 474v1.2M211.42 474v1.2M220.82 474v1.2M230.21 474v1.2M239.61 474v1.2M249 474v1.2M258.4 474v1.2" stroke="#111" stroke-width="0.6" fill="none"/>
<g font-size="4.4" font-weight="bold" text-anchor="end">
<text x="20.2" y="475.5">0</text>
<text x="20.2" y="466.24">2</text>
<text x="20.2" y="456.98">4</text>
<text x="20.2" y="447.71">6</text>
<text x="20.2" y="438.45">8</text>
<text x="20.2" y="429.19">10</text>
<text x="20.2" y="419.92">12</text>
<text x="20.2" y="410.66">14</text>
<text x="20.2" y="401.4">16</text>
</g>
<g font-size="4.4" font-weight="bold" text-anchor="middle">
<text x="28.2" y="482.2">1</text>
<text x="37.59" y="482.2">2</text>
<text x="46.99" y="482.2">3</text>
<text x="56.39" y="482.2">4</text>
<text x="65.78" y="482.2">5a</text>
<text x="75.18" y="482.2">5b</text>
<text x="84.57" y="482.2">6</text>
<text x="93.97" y="482.2">7</text>
<text x="103.37" y="482.2">8</text>
<text x="112.76" y="482.2">9</text>
<text x="122.16" y="482.2">10</text>
<text x="131.55" y="482.2">11</text>
<text x="140.95" y="482.2">12</text>
<text x="150.35" y="482.2">13</text>
<text x="159.74" y="482.2">14</text>
<text x="169.14" y="482.2">15</text>
<text x="178.53" y="482.2">16</text>
<text x="187.93" y="482.2">17</text>
<text x="197.33" y="482.2">18</text>
<text x="206.72" y="482.2">19</text>
<text x="216.12" y="482.2">20</text>
<text x="225.51" y="482.2">21</text>
<text x="234.91" y="482.2">22</text>
<text x="244.31" y="482.2">23</text>
<text x="253.7" y="482.2">24</text>
</g>
<text x="145.9" y="491.17" font-size="4.75" font-weight="bold" text-anchor="middle">BV gene family</text>
<text transform="translate(13.32 436.8) rotate(-90) scale(1.1 1)" font-size="4.3" font-weight="bold" text-anchor="middle">usage frequency</text>
<rect x="234.85" y="403.59" width="3.3" height="3.5" fill="#0a0a0a"/>
<rect x="235.4" y="412.59" width="2.2" height="2.5" fill="#fff" stroke="#111" stroke-width="1"/>
<text x="238.9" y="406.99" font-size="4.8" class="n">FBS</text>
<text x="238.9" y="415.49" font-size="4.8" class="n">CB</text>
</g>
<g class="s" transform="rotate(-0.099 284.3 438.8)">
<text x="288" y="392.1" font-size="5.6" font-weight="bold">Patient 9: CD8</text>
<path d="M285.91 476.5v-64.36h3.3v64.36zM295.13 476.5v-34.89h3.3v34.89zM304.35 476.5v-20.76h3.3v20.76zM313.57 476.5v-51.36h3.3v51.36zM322.79 476.5v-56.89h3.3v56.89zM332.01 476.5v-7.56h3.3v7.56zM341.23 476.5v-26.29h3.3v26.29zM350.45 476.5v-73.22h3.3v73.22zM359.67 476.5v-66.25h3.3v66.25zM368.89 476.5v-1.72h3.3v1.72zM378.11 476.5v-3.1h3.3v3.1zM387.33 476.5v-3.41h3.3v3.41zM396.55 476.5v-41.87h3.3v41.87zM405.77 476.5v-60.91h3.3v60.91zM414.99 476.5v-5.99h3.3v5.99zM424.21 476.5v-1.15h3.3v1.15zM433.43 476.5v-17.61h3.3v17.61zM442.65 476.5v-9.13h3.3v9.13zM451.87 476.5v-3.92h3.3v3.92zM461.09 476.5v-12.97h3.3v12.97zM470.31 476.5v-7.75h3.3v7.75zM479.53 476.5v-8.63h3.3v8.63zM488.75 476.5v-30.75h3.3v30.75zM497.97 476.5v-13.78h3.3v13.78zM507.19 476.5v-10.01h3.3v10.01z" fill="#0a0a0a"/>
<path d="M289.61 476.5v-39.71h2.1v39.71zM298.83 476.5v-39.21h2.1v39.21zM308.05 476.5v-29.34h2.1v29.34zM317.27 476.5v-53.22h2.1v53.22zM326.49 476.5v-62.2h2.1v62.2zM335.71 476.5v-8.92h2.1v8.92zM344.93 476.5v-32.29h2.1v32.29zM354.15 476.5v-54.6h2.1v54.6zM363.37 476.5v-58.75h2.1v58.75zM372.59 476.5v-2.01h2.1v2.01zM381.81 476.5v-2.7h2.1v2.7zM391.03 476.5v-2.7h2.1v2.7zM400.25 476.5v-45.43h2.1v45.43zM409.47 476.5v-70.5h2.1v70.5zM418.69 476.5v-3.39h2.1v3.39zM427.91 476.5v-0.88h2.1v0.88zM437.13 476.5v-22.43h2.1v22.43zM446.35 476.5v-7.85h2.1v7.85zM455.57 476.5v-3.39h2.1v3.39zM464.79 476.5v-15.46h2.1v15.46zM474.01 476.5v-7.35h2.1v7.35zM483.23 476.5v-6.97h2.1v6.97zM492.45 476.5v-26.39h2.1v26.39zM501.67 476.5v-13.38h2.1v13.38zM510.89 476.5v-12.57h2.1v12.57z" fill="#f0f0f0" stroke="#111" stroke-width="0.9"/>
<rect x="284.3" y="401.1" width="230.5" height="75.4" fill="none" stroke="#000" stroke-width="0.95"/>
<path d="M284.3 476.5h-1.2M284.3 463.93h-1.2M284.3 451.37h-1.2M284.3 438.8h-1.2M284.3 426.23h-1.2M284.3 413.67h-1.2M284.3 401.1h-1.2M284.3 476.5v1.2M293.52 476.5v1.2M302.74 476.5v1.2M311.96 476.5v1.2M321.18 476.5v1.2M330.4 476.5v1.2M339.62 476.5v1.2M348.84 476.5v1.2M358.06 476.5v1.2M367.28 476.5v1.2M376.5 476.5v1.2M385.72 476.5v1.2M394.94 476.5v1.2M404.16 476.5v1.2M413.38 476.5v1.2M422.6 476.5v1.2M431.82 476.5v1.2M441.04 476.5v1.2M450.26 476.5v1.2M459.48 476.5v1.2M468.7 476.5v1.2M477.92 476.5v1.2M487.14 476.5v1.2M496.36 476.5v1.2M505.58 476.5v1.2M514.8 476.5v1.2" stroke="#111" stroke-width="0.6" fill="none"/>
<g font-size="4.4" font-weight="bold" text-anchor="end">
<text x="281" y="478">0</text>
<text x="281" y="465.43">2</text>
<text x="281" y="452.87">4</text>
<text x="281" y="440.3">6</text>
<text x="281" y="427.73">8</text>
<text x="281" y="415.17">10</text>
<text x="281" y="402.6">12</text>
</g>
<g font-size="4.4" font-weight="bold" text-anchor="middle">
<text x="288.91" y="485.1">1</text>
<text x="298.13" y="485.1">2</text>
<text x="307.35" y="485.1">3</text>
<text x="316.57" y="485.1">4</text>
<text x="325.79" y="485.1">5a</text>
<text x="335.01" y="485.1">5b</text>
<text x="344.23" y="485.1">6</text>
<text x="353.45" y="485.1">7</text>
<text x="362.67" y="485.1">8</text>
<text x="371.89" y="485.1">9</text>
<text x="381.11" y="485.1">10</text>
<text x="390.33" y="485.1">11</text>
<text x="399.55" y="485.1">12</text>
<text x="408.77" y="485.1">13</text>
<text x="417.99" y="485.1">14</text>
<text x="427.21" y="485.1">15</text>
<text x="436.43" y="485.1">16</text>
<text x="445.65" y="485.1">17</text>
<text x="454.87" y="485.1">18</text>
<text x="464.09" y="485.1">19</text>
<text x="473.31" y="485.1">20</text>
<text x="482.53" y="485.1">21</text>
<text x="491.75" y="485.1">22</text>
<text x="500.97" y="485.1">23</text>
<text x="510.19" y="485.1">24</text>
</g>
<text x="399.8" y="492.97" font-size="4.75" font-weight="bold" text-anchor="middle">BV gene family</text>
<text transform="translate(271.72 440.3) rotate(-90) scale(1.1 1)" font-size="4.3" font-weight="bold" text-anchor="middle">usage frequency (%)</text>
<rect x="495.35" y="405.41" width="3.3" height="3.5" fill="#0a0a0a"/>
<rect x="495.9" y="414.61" width="2.2" height="2.5" fill="#fff" stroke="#111" stroke-width="1"/>
<text x="499.4" y="408.81" font-size="4.8" class="n">FBS</text>
<text x="499.4" y="417.51" font-size="4.8" class="n">CB</text>
</g>
<g class="s" transform="rotate(-0.171 24.4 558.05)">
<text x="35.8" y="512.7" font-size="5.6" font-weight="bold">Patient 10: CD4</text>
<path d="M25.68 599.1v-18.45h3.3v18.45zM35.04 599.1v-14.64h3.3v14.64zM44.4 599.1v-67.32h3.3v67.32zM53.76 599.1v-17.23h3.3v17.23zM63.12 599.1v-27.45h3.3v27.45zM72.48 599.1v-3.24h3.3v3.24zM81.84 599.1v-12.05h3.3v12.05zM91.2 599.1v-19.37h3.3v19.37zM100.56 599.1v-36.12h3.3v36.12zM109.92 599.1v-1.31h3.3v1.31zM119.28 599.1v-2.03h3.3v2.03zM128.64 599.1v-1.31h3.3v1.31zM138 599.1v-38.42h3.3v38.42zM147.36 599.1v-31.75h3.3v31.75zM156.72 599.1v-1.87h3.3v1.87zM166.08 599.1v-0.98h3.3v0.98zM175.44 599.1v-6.17h3.3v6.17zM184.8 599.1v-3.24h3.3v3.24zM194.16 599.1v-6.69h3.3v6.69zM203.52 599.1v-6.36h3.3v6.36zM212.88 599.1v-6.17h3.3v6.17zM222.24 599.1v-2.03h3.3v2.03zM231.6 599.1v-1.18h3.3v1.18zM240.96 599.1v-4.46h3.3v4.46zM250.32 599.1v-11.03h3.3v11.03z" fill="#0a0a0a"/>
<path d="M29.38 599.1v-12.01h2.1v12.01zM38.74 599.1v-31.87h2.1v31.87zM48.1 599.1v-69.87h2.1v69.87zM57.46 599.1v-26.69h2.1v26.69zM66.82 599.1v-23.57h2.1v23.57zM76.18 599.1v-5.08h2.1v5.08zM85.54 599.1v-16.67h2.1v16.67zM94.9 599.1v-24.22h2.1v24.22zM104.26 599.1v-38.34h2.1v38.34zM113.62 599.1v-0.91h2.1v0.91zM122.98 599.1v-3.21h2.1v3.21zM132.34 599.1v-0.74h2.1v0.74zM141.7 599.1v-17.2h2.1v17.2zM151.06 599.1v-15.29h2.1v15.29zM160.42 599.1v-1.1h2.1v1.1zM169.78 599.1v-0.74h2.1v0.74zM179.14 599.1v-7.15h2.1v7.15zM188.5 599.1v-4.58h2.1v4.58zM197.86 599.1v-4.58h2.1v4.58zM207.22 599.1v-6.29h2.1v6.29zM216.58 599.1v-5.44h2.1v5.44zM225.94 599.1v-2.84h2.1v2.84zM235.3 599.1v-2.32h2.1v2.32zM244.66 599.1v-4.91h2.1v4.91zM254.02 599.1v-7.15h2.1v7.15z" fill="#f0f0f0" stroke="#111" stroke-width="0.9"/>
<rect x="24.4" y="517" width="234" height="82.1" fill="none" stroke="#000" stroke-width="0.95"/>
<path d="M24.4 599.1h-1.2M24.4 582.68h-1.2M24.4 566.26h-1.2M24.4 549.84h-1.2M24.4 533.42h-1.2M24.4 517h-1.2M24.4 599.1v1.2M33.76 599.1v1.2M43.12 599.1v1.2M52.48 599.1v1.2M61.84 599.1v1.2M71.2 599.1v1.2M80.56 599.1v1.2M89.92 599.1v1.2M99.28 599.1v1.2M108.64 599.1v1.2M118 599.1v1.2M127.36 599.1v1.2M136.72 599.1v1.2M146.08 599.1v1.2M155.44 599.1v1.2M164.8 599.1v1.2M174.16 599.1v1.2M183.52 599.1v1.2M192.88 599.1v1.2M202.24 599.1v1.2M211.6 599.1v1.2M220.96 599.1v1.2M230.32 599.1v1.2M239.68 599.1v1.2M249.04 599.1v1.2M258.4 599.1v1.2" stroke="#111" stroke-width="0.6" fill="none"/>
<g font-size="4.4" font-weight="bold" text-anchor="end">
<text x="21.1" y="600.6">0</text>
<text x="21.1" y="584.18">5</text>
<text x="21.1" y="567.76">10</text>
<text x="21.1" y="551.34">15</text>
<text x="21.1" y="534.92">20</text>
<text x="21.1" y="518.5">25</text>
</g>
<g font-size="4.4" font-weight="bold" text-anchor="middle">
<text x="29.08" y="607.9">1</text>
<text x="38.44" y="607.9">2</text>
<text x="47.8" y="607.9">3</text>
<text x="57.16" y="607.9">4</text>
<text x="66.52" y="607.9">5a</text>
<text x="75.88" y="607.9">5b</text>
<text x="85.24" y="607.9">6</text>
<text x="94.6" y="607.9">7</text>
<text x="103.96" y="607.9">8</text>
<text x="113.32" y="607.9">9</text>
<text x="122.68" y="607.9">10</text>
<text x="132.04" y="607.9">11</text>
<text x="141.4" y="607.9">12</text>
<text x="150.76" y="607.9">13</text>
<text x="160.12" y="607.9">14</text>
<text x="169.48" y="607.9">15</text>
<text x="178.84" y="607.9">16</text>
<text x="188.2" y="607.9">17</text>
<text x="197.56" y="607.9">18</text>
<text x="206.92" y="607.9">19</text>
<text x="216.28" y="607.9">20</text>
<text x="225.64" y="607.9">21</text>
<text x="235" y="607.9">22</text>
<text x="244.36" y="607.9">23</text>
<text x="253.72" y="607.9">24</text>
</g>
<text x="145.7" y="613.97" font-size="4.75" font-weight="bold" text-anchor="middle">BV gene family</text>
<text transform="translate(13.42 557.4) rotate(-90) scale(1.1 1)" font-size="4.3" font-weight="bold" text-anchor="middle">usage frequency (%)</text>
<rect x="239.05" y="521.88" width="3.3" height="3.5" fill="#0a0a0a"/>
<rect x="239.6" y="531.08" width="2.2" height="2.5" fill="#fff" stroke="#111" stroke-width="1"/>
<text x="243.1" y="525.28" font-size="4.8" class="n">FBS</text>
<text x="243.1" y="533.98" font-size="4.8" class="n">CB</text>
</g>
<g class="s" transform="rotate(-0.000 283.6 557.75)">
<text x="289.7" y="510.7" font-size="5.6" font-weight="bold">Patient 10: CD8</text>
<rect x="284" y="578.2" width="2.3" height="20.9" fill="#8c8c8c"/>
<path d="M285.23 599.1v-21.95h3.3v21.95zM294.49 599.1v-15.54h3.3v15.54zM303.75 599.1v-77.56h3.3v77.56zM313.01 599.1v-28.52h3.3v28.52zM322.27 599.1v-17.6h3.3v17.6zM331.53 599.1v-5.2h3.3v5.2zM340.79 599.1v-8.59h3.3v8.59zM350.05 599.1v-33.73h3.3v33.73zM359.31 599.1v-83h3.3v83zM368.57 599.1v-4.29h3.3v4.29zM377.83 599.1v-7.56h3.3v7.56zM387.09 599.1v-2.55h3.3v2.55zM396.35 599.1v-31.79h3.3v31.79zM405.61 599.1v-33.19h3.3v33.19zM414.87 599.1v-4.99h3.3v4.99zM424.13 599.1v-1.48h3.3v1.48zM433.39 599.1v-5.86h3.3v5.86zM442.65 599.1v-5.16h3.3v5.16zM451.91 599.1v-3.59h3.3v3.59zM461.17 599.1v-6.36h3.3v6.36zM470.43 599.1v-6.69h3.3v6.69zM479.69 599.1v-4.62h3.3v4.62zM488.95 599.1v-12.43h3.3v12.43zM498.21 599.1v-4.62h3.3v4.62zM507.47 599.1v-4.12h3.3v4.12z" fill="#0a0a0a"/>
<path d="M288.93 599.1v-29.61h2.1v29.61zM298.19 599.1v-26.3h2.1v26.3zM307.45 599.1v-82.12h2.1v82.12zM316.71 599.1v-37.63h2.1v37.63zM325.97 599.1v-20.1h2.1v20.1zM335.23 599.1v-4.59h2.1v4.59zM344.49 599.1v-13.23h2.1v13.23zM353.75 599.1v-31.06h2.1v31.06zM363.01 599.1v-35.4h2.1v35.4zM372.27 599.1v-2.86h2.1v2.86zM381.53 599.1v-4.59h2.1v4.59zM390.79 599.1v-2.48h2.1v2.48zM400.05 599.1v-15.47h2.1v15.47zM409.31 599.1v-35.4h2.1v35.4zM418.57 599.1v-4.92h2.1v4.92zM427.83 599.1v-2.86h2.1v2.86zM437.09 599.1v-9.76h2.1v9.76zM446.35 599.1v-6.82h2.1v6.82zM455.61 599.1v-3.72h2.1v3.72zM464.87 599.1v-9.93h2.1v9.93zM474.13 599.1v-5.09h2.1v5.09zM483.39 599.1v-4.22h2.1v4.22zM492.65 599.1v-11.5h2.1v11.5zM501.91 599.1v-11.17h2.1v11.17zM511.17 599.1v-9.35h2.1v9.35z" fill="#f0f0f0" stroke="#111" stroke-width="0.9"/>
<rect x="283.6" y="516.4" width="231.5" height="82.7" fill="none" stroke="#000" stroke-width="0.95"/>
<path d="M283.6 599.1h-1.2M283.6 590.83h-1.2M283.6 582.56h-1.2M283.6 574.29h-1.2M283.6 566.02h-1.2M283.6 557.75h-1.2M283.6 549.48h-1.2M283.6 541.21h-1.2M283.6 532.94h-1.2M283.6 524.67h-1.2M283.6 516.4h-1.2M283.6 599.1v1.2M292.86 599.1v1.2M302.12 599.1v1.2M311.38 599.1v1.2M320.64 599.1v1.2M329.9 599.1v1.2M339.16 599.1v1.2M348.42 599.1v1.2M357.68 599.1v1.2M366.94 599.1v1.2M376.2 599.1v1.2M385.46 599.1v1.2M394.72 599.1v1.2M403.98 599.1v1.2M413.24 599.1v1.2M422.5 599.1v1.2M431.76 599.1v1.2M441.02 599.1v1.2M450.28 599.1v1.2M459.54 599.1v1.2M468.8 599.1v1.2M478.06 599.1v1.2M487.32 599.1v1.2M496.58 599.1v1.2M505.84 599.1v1.2M515.1 599.1v1.2" stroke="#111" stroke-width="0.6" fill="none"/>
<g font-size="4.4" font-weight="bold" text-anchor="end">
<text x="280.3" y="600.6">0</text>
<text x="280.3" y="592.33">2</text>
<text x="280.3" y="584.06">4</text>
<text x="280.3" y="575.79">6</text>
<text x="280.3" y="567.52">8</text>
<text x="280.3" y="559.25">10</text>
<text x="280.3" y="550.98">12</text>
<text x="280.3" y="542.71">14</text>
<text x="280.3" y="534.44">16</text>
<text x="280.3" y="526.17">18</text>
<text x="280.3" y="517.9">20</text>
</g>
<g font-size="4.4" font-weight="bold" text-anchor="middle">
<text x="288.23" y="607.9">1</text>
<text x="297.49" y="607.9">2</text>
<text x="306.75" y="607.9">3</text>
<text x="316.01" y="607.9">4</text>
<text x="325.27" y="607.9">5a</text>
<text x="334.53" y="607.9">5b</text>
<text x="343.79" y="607.9">6</text>
<text x="353.05" y="607.9">7</text>
<text x="362.31" y="607.9">8</text>
<text x="371.57" y="607.9">9</text>
<text x="380.83" y="607.9">10</text>
<text x="390.09" y="607.9">11</text>
<text x="399.35" y="607.9">12</text>
<text x="408.61" y="607.9">13</text>
<text x="417.87" y="607.9">14</text>
<text x="427.13" y="607.9">15</text>
<text x="436.39" y="607.9">16</text>
<text x="445.65" y="607.9">17</text>
<text x="454.91" y="607.9">18</text>
<text x="464.17" y="607.9">19</text>
<text x="473.43" y="607.9">20</text>
<text x="482.69" y="607.9">21</text>
<text x="491.95" y="607.9">22</text>
<text x="501.21" y="607.9">23</text>
<text x="510.47" y="607.9">24</text>
</g>
<text x="405.4" y="613.57" font-size="4.75" font-weight="bold" text-anchor="middle">BV gene family</text>
<text transform="translate(272.12 557.1) rotate(-90) scale(1.1 1)" font-size="4.3" font-weight="bold" text-anchor="middle">usage frequency</text>
<rect x="493.25" y="523.85" width="3.3" height="3.5" fill="#0a0a0a"/>
<rect x="493.8" y="532.85" width="2.2" height="2.5" fill="#fff" stroke="#111" stroke-width="1"/>
<text x="497.3" y="527.25" font-size="4.8" class="n">FBS</text>
<text x="497.3" y="535.75" font-size="4.8" class="n">CB</text>
</g>
</svg>
</body></html>
